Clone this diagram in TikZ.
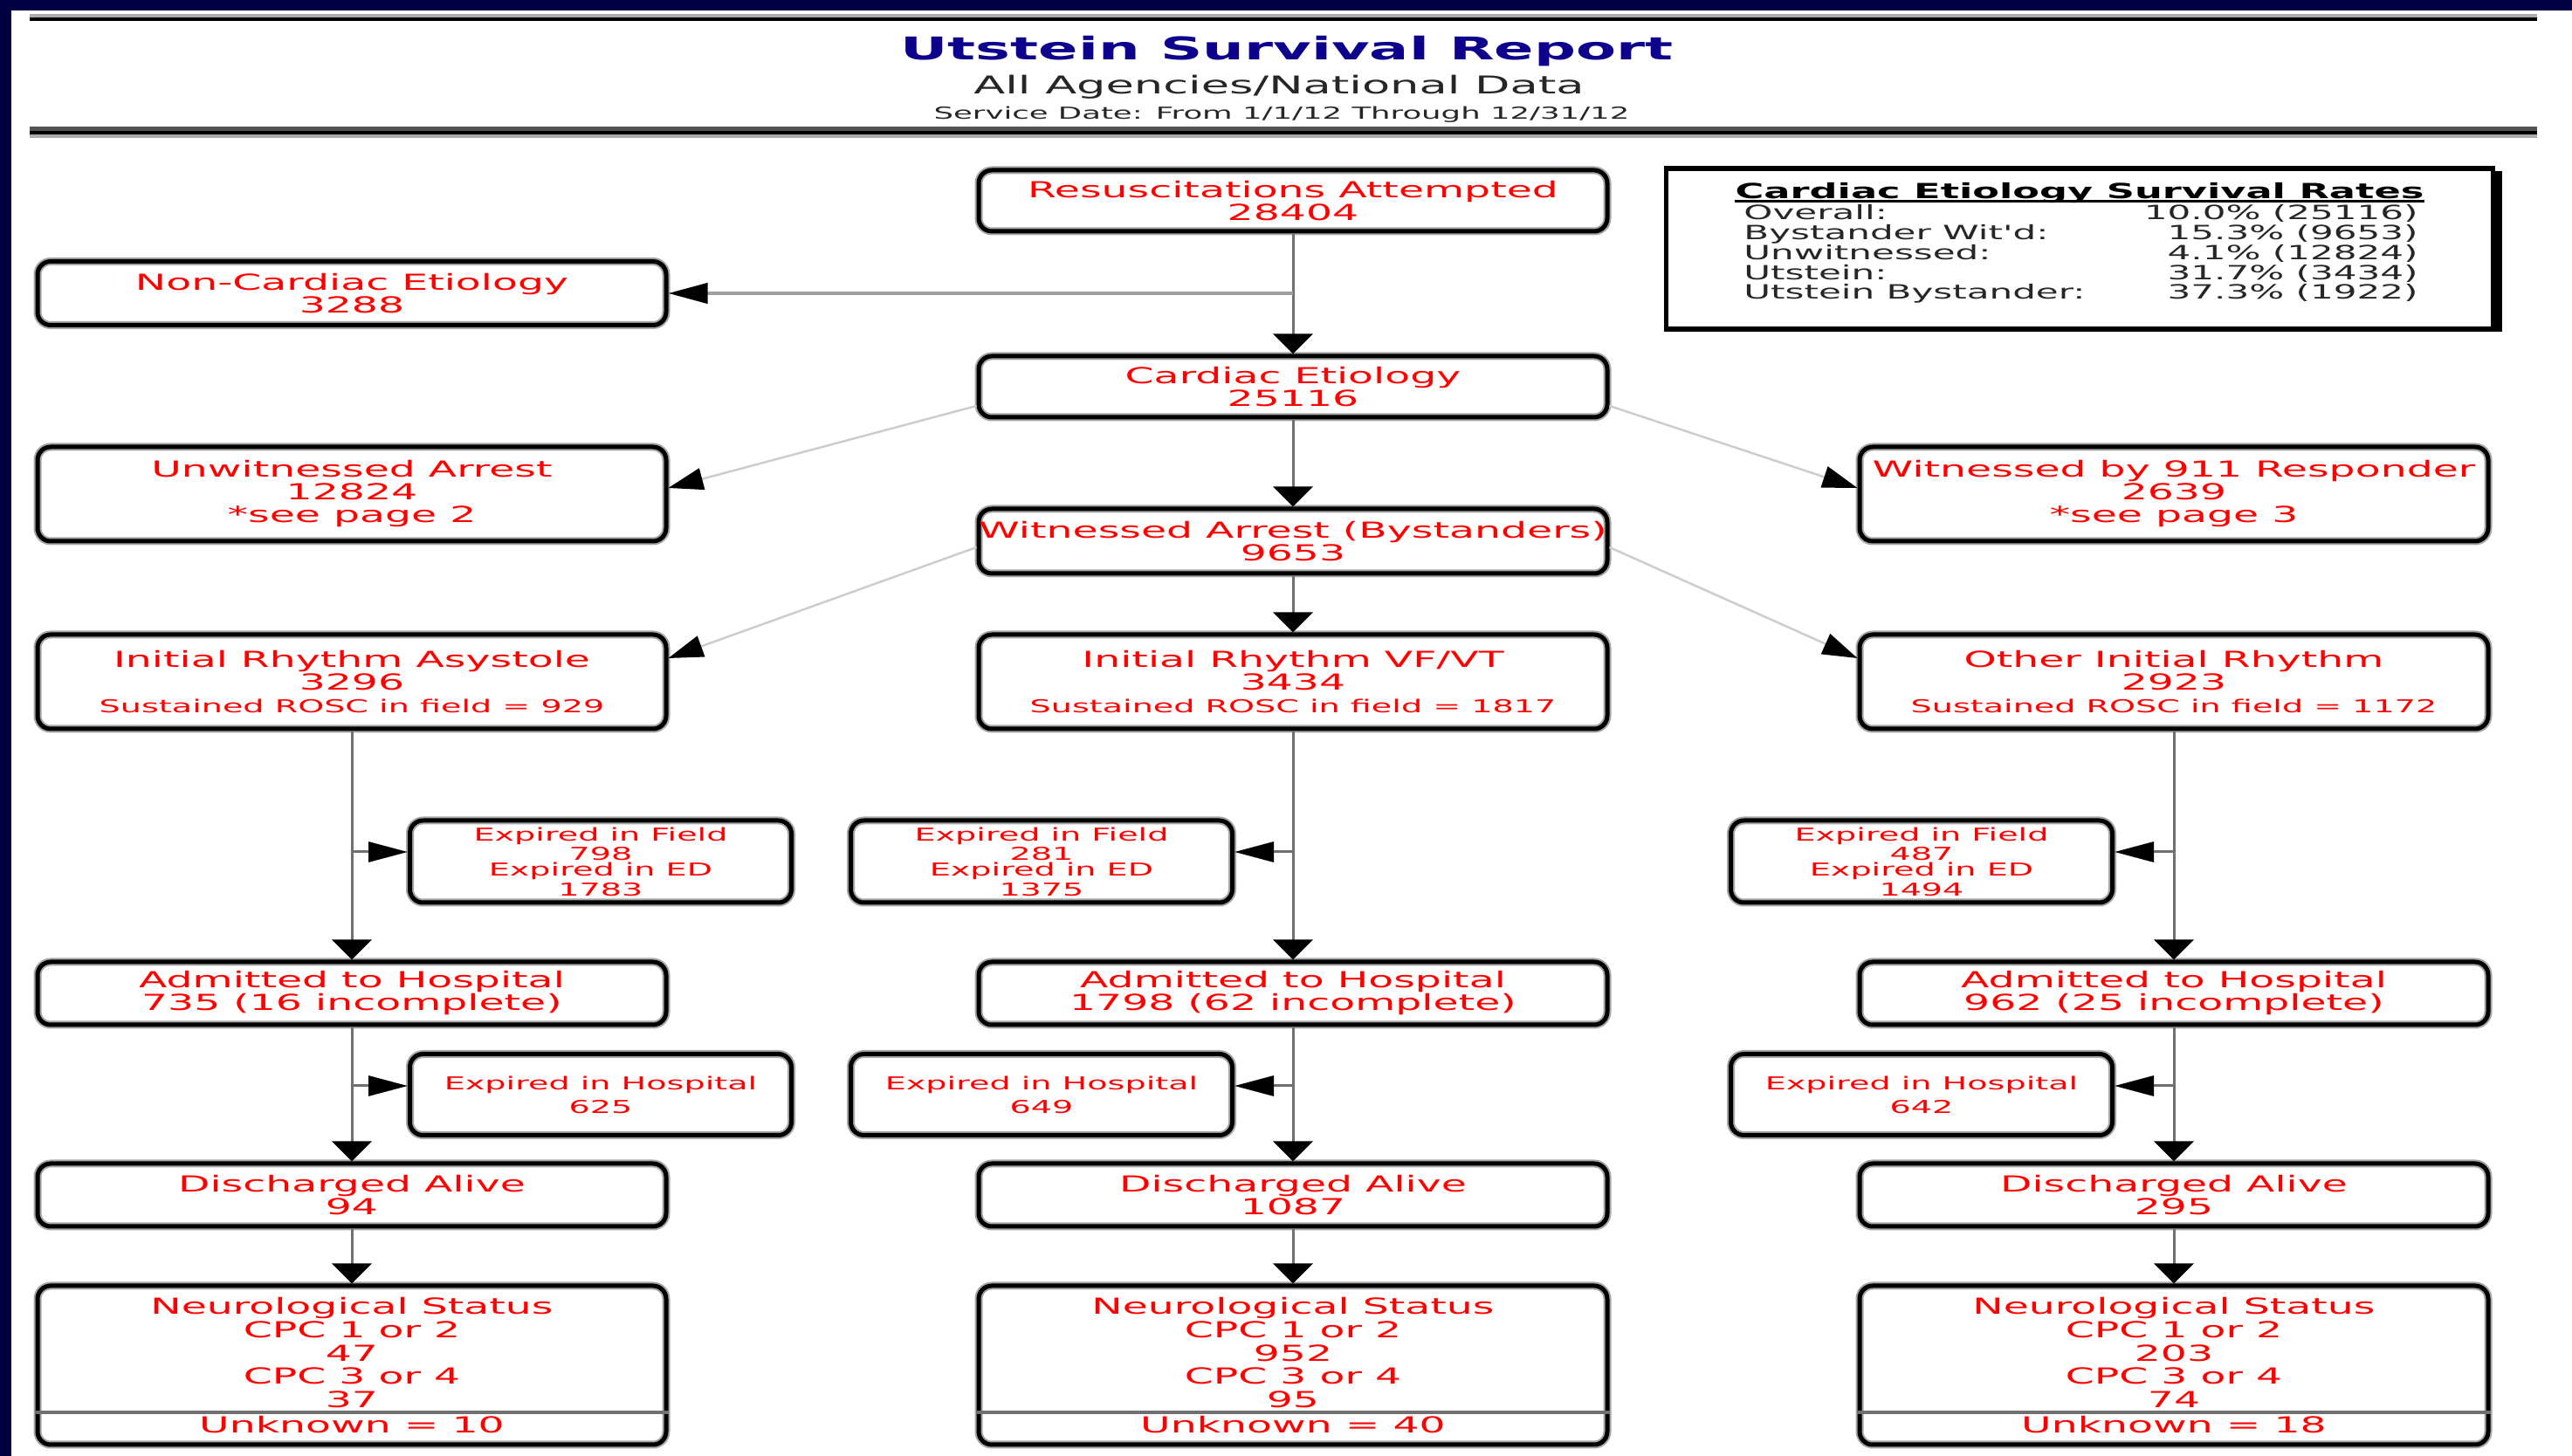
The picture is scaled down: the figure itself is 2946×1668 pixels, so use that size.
\documentclass[tikz,border=0pt]{standalone}
\usepackage{fontspec}
\setmainfont{DejaVu Sans}
\newfontfamily\boxfont[FakeStretch=1.87]{DejaVu Sans}
\usetikzlibrary{arrows.meta,shadows}
\definecolor{navyframe}{RGB}{0,0,66}
\definecolor{titleblue}{RGB}{12,0,140}
\definecolor{linegray}{RGB}{112,112,112}
\definecolor{diaggray}{RGB}{205,205,205}
\definecolor{boxred}{RGB}{255,0,0}
\newcommand{\sm}[1]{{\fontsize{5.8}{7.1}\selectfont #1}}
\tikzset{
	flowbox/.style={draw=black, line width=0.5mm, rounded corners=1.5mm, preaction={draw=gray!70, line width=0.9mm}, text=boxred, align=center, inner xsep=0pt, inner ysep=0pt, minimum width=72mm, font=\boxfont\fontsize{7.2}{7.4}\selectfont},
	smallbox/.style={flowbox, minimum width=43.7mm, font=\boxfont\fontsize{5.8}{4.95}\selectfont},
	vline/.style={draw=linegray, line width=0.3mm, -{Triangle[width=4.5mm,length=2.3mm,color=black]}},
	hline/.style={draw=linegray, line width=0.3mm, -{Triangle[width=2.3mm,length=4.5mm,color=black]}},
	ncline/.style={draw=gray!75, line width=0.4mm, -{Triangle[width=2.3mm,length=4.5mm,color=black]}},
	diag/.style={draw=diaggray, line width=0.25mm, -{Triangle[width=2.5mm,length=4mm,color=black]}},
	ratefont/.style={font=\boxfont\fontsize{6.4}{6.5}\selectfont, text=black!85}
}
\begin{document}
\begin{tikzpicture}[x=0.1mm,y=-0.1mm]
	\useasboundingbox (0,0) rectangle (2946,1668);
	\fill[white] (0,0) rectangle (2946,1668);
	\fill[navyframe] (0,0) rectangle (2946,12);
	\fill[navyframe] (0,0) rectangle (13,1668);
	\fill[gray!65] (34,16) rectangle (2906,20);
	\fill[black] (34,20) rectangle (2906,24);
	\fill[black!67] (34,145) rectangle (2906,150);
	\fill[black] (34,150) rectangle (2906,154);
	\fill[gray!65] (34,154) rectangle (2906,158);

	\node[anchor=base, text=titleblue, font=\boxfont\bfseries\fontsize{10.2}{12}\selectfont] (title) at (1474,69) {Utstein Survival Report};
	\node[anchor=base, text=black!85, font=\boxfont\fontsize{8}{9}\selectfont] (agencies) at (1465,108) {All Agencies/National Data};
	\node[anchor=base, text=black!85, font=\boxfont\fontsize{5.4}{6}\selectfont] (svcdate) at (1468,137) {Service Date: From 1/1/12 Through 12/31/12};

	\node[draw, line width=0.55mm, fill=white, minimum width=94.7mm, minimum height=18.4mm, drop shadow={shadow xshift=1mm, shadow yshift=-0.3mm, fill=black, opacity=1}] (rates) at (2382,285) {};
	\node[anchor=base, inner xsep=0pt, text=black, font=\boxfont\bfseries\fontsize{6.8}{7}\selectfont] (ratestitle) at (2382,228) {Cardiac Etiology Survival Rates};
	\draw[black, line width=0.3mm] (ratestitle.west |- 0,231) -- (ratestitle.east |- 0,231);
	\node[ratefont, anchor=base west] (lab1) at (1985,252) {Overall:};
	\node[ratefont, anchor=base east] (val1) at (2782,252) {10.0\% (25116)};
	\node[ratefont, anchor=base west] (lab2) at (1985,275) {Bystander Wit'd:};
	\node[ratefont, anchor=base east] (val2) at (2782,275) {15.3\% (9653)};
	\node[ratefont, anchor=base west] (lab3) at (1985,298) {Unwitnessed:};
	\node[ratefont, anchor=base east] (val3) at (2782,298) {4.1\% (12824)};
	\node[ratefont, anchor=base west] (lab4) at (1985,321) {Utstein:};
	\node[ratefont, anchor=base east] (val4) at (2782,321) {31.7\% (3434)};
	\node[ratefont, anchor=base west] (lab5) at (1985,343) {Utstein Bystander:};
	\node[ratefont, anchor=base east] (val5) at (2782,343) {37.3\% (1922)};

	\node[flowbox, minimum height=7mm] (resus) at (1481,230) {Resuscitations Attempted\\28404};
	\node[flowbox, minimum height=7.3mm] (noncard) at (403,336) {Non-Cardiac Etiology\\3288};
	\node[flowbox, minimum height=7mm] (cardiac) at (1481,443) {Cardiac Etiology\\25116};
	\node[flowbox, minimum height=10.8mm] (unwit) at (403,566) {Unwitnessed Arrest\\12824\\*see page 2};
	\node[flowbox, minimum height=10.8mm] (wit911) at (2490,566) {Witnessed by 911 Responder\\2639\\*see page 3};
	\node[flowbox, minimum height=7.4mm] (witarr) at (1481,620) {Witnessed Arrest (Bystanders)\\9653};

	\node[flowbox, minimum height=10.8mm] (asys) at (403,781) {Initial Rhythm Asystole\\3296\\\sm{Sustained ROSC in field = 929}};
	\node[flowbox, minimum height=10.8mm] (vfvt) at (1481,781) {Initial Rhythm VF/VT\\3434\\\sm{Sustained ROSC in field = 1817}};
	\node[flowbox, minimum height=10.8mm] (other) at (2490,781) {Other Initial Rhythm\\2923\\\sm{Sustained ROSC in field = 1172}};

	\node[smallbox, minimum height=9.4mm] (fieldL) at (688,987) {Expired in Field\\798\\Expired in ED\\1783};
	\node[smallbox, minimum height=9.4mm] (fieldM) at (1193,987) {Expired in Field\\281\\Expired in ED\\1375};
	\node[smallbox, minimum height=9.4mm] (fieldR) at (2201,987) {Expired in Field\\487\\Expired in ED\\1494};

	\node[flowbox, minimum height=7.2mm] (admL) at (403,1138) {Admitted to Hospital\\735 (16 incomplete)};
	\node[flowbox, minimum height=7.2mm] (admM) at (1481,1138) {Admitted to Hospital\\1798 (62 incomplete)};
	\node[flowbox, minimum height=7.2mm] (admR) at (2490,1138) {Admitted to Hospital\\962 (25 incomplete)};

	\node[smallbox, minimum height=9.3mm, font=\boxfont\fontsize{5.8}{7.7}\selectfont] (hospL) at (688,1254) {Expired in Hospital\\625};
	\node[smallbox, minimum height=9.3mm, font=\boxfont\fontsize{5.8}{7.7}\selectfont] (hospM) at (1193,1254) {Expired in Hospital\\649};
	\node[smallbox, minimum height=9.3mm, font=\boxfont\fontsize{5.8}{7.7}\selectfont] (hospR) at (2201,1254) {Expired in Hospital\\642};

	\node[flowbox, minimum height=7.2mm] (discL) at (403,1369) {Discharged Alive\\94};
	\node[flowbox, minimum height=7.2mm] (discM) at (1481,1369) {Discharged Alive\\1087};
	\node[flowbox, minimum height=7.2mm] (discR) at (2490,1369) {Discharged Alive\\295};

	\node[flowbox, minimum height=18.2mm, font=\boxfont\fontsize{7.2}{7.6}\selectfont] (neuroL) at (403,1564) {Neurological Status\\CPC 1 or 2\\47\\CPC 3 or 4\\37\\[0.6pt]Unknown = 10};
	\node[flowbox, minimum height=18.2mm, font=\boxfont\fontsize{7.2}{7.6}\selectfont] (neuroM) at (1481,1564) {Neurological Status\\CPC 1 or 2\\952\\CPC 3 or 4\\95\\[0.6pt]Unknown = 40};
	\node[flowbox, minimum height=18.2mm, font=\boxfont\fontsize{7.2}{7.6}\selectfont] (neuroR) at (2490,1564) {Neurological Status\\CPC 1 or 2\\203\\CPC 3 or 4\\74\\[0.6pt]Unknown = 18};
	\draw[linegray, line width=0.4mm] (neuroL.west |- 0,1618) -- (neuroL.east |- 0,1618);
	\draw[linegray, line width=0.4mm] (neuroM.west |- 0,1618) -- (neuroM.east |- 0,1618);
	\draw[linegray, line width=0.4mm] (neuroR.west |- 0,1618) -- (neuroR.east |- 0,1618);

	\draw[vline] (resus.south) -- (cardiac.north);
	\draw[ncline] (resus.south |- noncard.east) -- (noncard.east);
	\draw[diag] ([yshift=-2.2mm]cardiac.west) -- ([yshift=0.7mm]unwit.east);
	\draw[diag] ([yshift=-2.2mm]cardiac.east) -- ([yshift=0.7mm]wit911.west);
	\draw[vline] (cardiac.south) -- (witarr.north);
	\draw[diag] ([yshift=-0.7mm]witarr.west) -- ([yshift=2.7mm]asys.east);
	\draw[diag] ([yshift=-0.7mm]witarr.east) -- ([yshift=2.7mm]other.west);
	\draw[vline] (witarr.south) -- (vfvt.north);

	\draw[vline] (asys.south) -- (admL.north);
	\draw[vline] (vfvt.south) -- (admM.north);
	\draw[vline] (other.south) -- (admR.north);
	\draw[hline] (asys.south |- 0,976) -- (fieldL.west |- 0,976);
	\draw[hline] (vfvt.south |- 0,976) -- (fieldM.east |- 0,976);
	\draw[hline] (other.south |- 0,976) -- (fieldR.east |- 0,976);

	\draw[vline] (admL.south) -- (discL.north);
	\draw[vline] (admM.south) -- (discM.north);
	\draw[vline] (admR.south) -- (discR.north);
	\draw[hline] (admL.south |- 0,1244) -- (hospL.west |- 0,1244);
	\draw[hline] (admM.south |- 0,1244) -- (hospM.east |- 0,1244);
	\draw[hline] (admR.south |- 0,1244) -- (hospR.east |- 0,1244);

	\draw[vline] (discL.south) -- (neuroL.north);
	\draw[vline] (discM.south) -- (neuroM.north);
	\draw[vline] (discR.south) -- (neuroR.north);
\end{tikzpicture}
\end{document}
